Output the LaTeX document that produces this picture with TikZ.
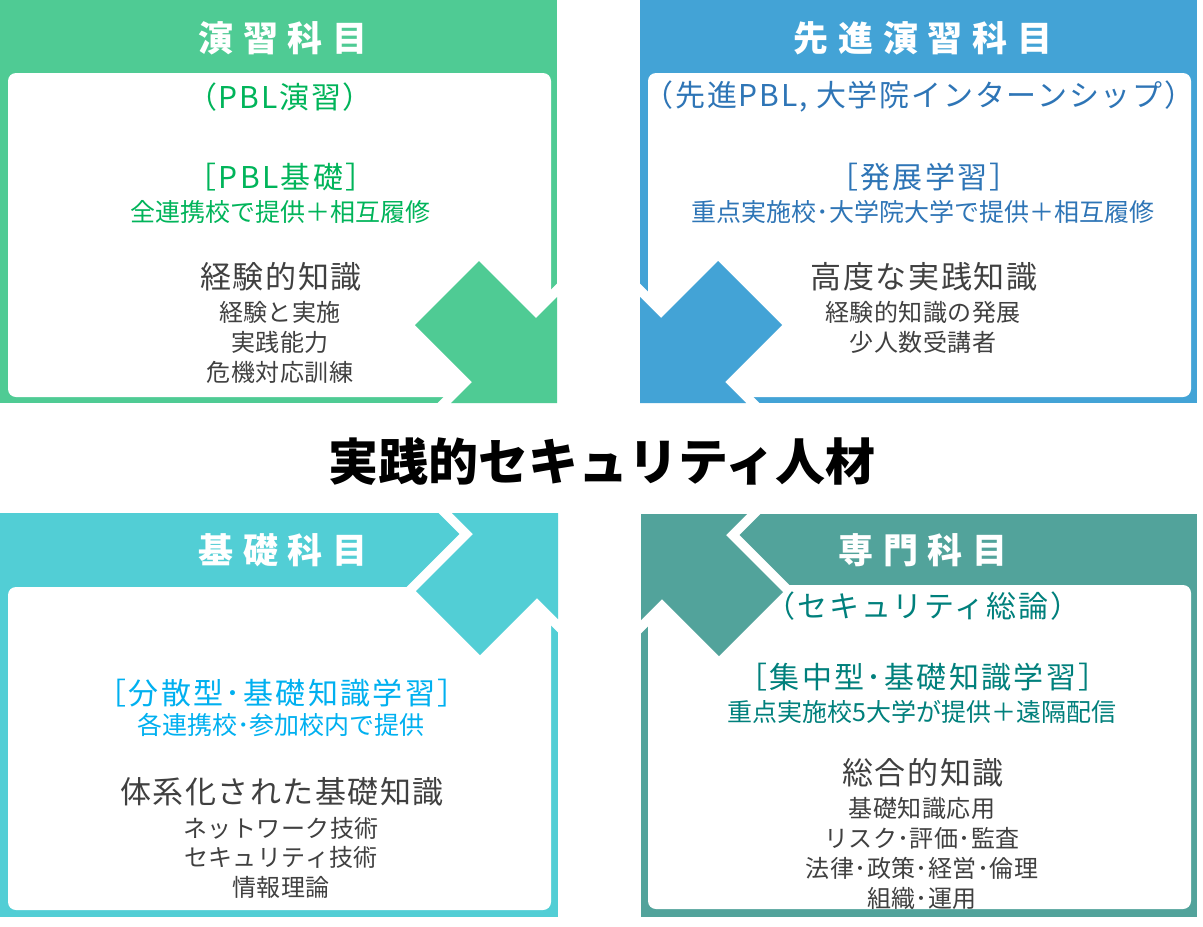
\documentclass[tikz,border=0pt]{standalone}
\usepackage{fontspec}
\setmainfont{Noto Sans CJK JP}
\definecolor{pgreen}{RGB}{79,203,148}
\definecolor{pblue}{RGB}{67,163,214}
\definecolor{pcyan}{RGB}{82,206,213}
\definecolor{pteal}{RGB}{82,163,155}
\definecolor{tgreen}{RGB}{0,180,90}
\definecolor{tblue}{RGB}{46,117,182}
\definecolor{tcyan}{RGB}{0,176,240}
\definecolor{tteal}{RGB}{0,128,124}
\definecolor{tdark}{RGB}{64,64,64}
\newcommand\cornerarrow[2]{%
  \begin{scope}[#1]
    \draw[white,line width=19,line join=miter] (0,0) -- (-106,0) -- (-85,-21) -- (-142,-78) -- (-78,-142) -- (-21,-85) -- (0,-106) -- cycle;
    \fill[#2] (0,0) -- (-106,0) -- (-85,-21) -- (-142,-78) -- (-78,-142) -- (-21,-85) -- (0,-106) -- cycle;
  \end{scope}}
\tikzset{
  panelttl/.style={inner sep=0,text=white,font=\fontsize{35}{40}\selectfont\bfseries\addfontfeatures{LetterSpace=28}},
  paren/.style={inner sep=0,font=\fontsize{30}{36}\selectfont\addfontfeatures{LetterSpace=6}},
  brack/.style={inner sep=0,font=\fontsize{30}{36}\selectfont\addfontfeatures{LetterSpace=8}},
  subl/.style={inner sep=0,font=\fontsize{25}{30}\selectfont},
  dhead/.style={inner sep=0,text=tdark,font=\fontsize{31}{36}\selectfont\addfontfeatures{LetterSpace=5}},
  dline/.style={inner sep=0,text=tdark,font=\fontsize{24}{28}\selectfont\addfontfeatures{LetterSpace=2}},
  maintitle/.style={inner sep=0,text=black,font=\fontsize{50}{56}\selectfont\bfseries},
  innerbox/.style={fill=white,rounded corners=8}
}
\begin{document}
\begin{tikzpicture}[x=1pt,y=-1pt]
\useasboundingbox (0,0) rectangle (1203,927);
% panels
\fill[pgreen] (0,0) rectangle (557,403);
\fill[innerbox] (8,73) rectangle (551,397);
\fill[pblue] (640,0) rectangle (1197,403);
\fill[innerbox] (648,73) rectangle (1191,397);
\fill[pcyan] (0,513) rectangle (558,917);
\fill[innerbox] (8,587) rectangle (551,910);
\fill[pteal] (641,514) rectangle (1197,917);
\fill[innerbox] (648,585) rectangle (1191,909);
% arrows
\cornerarrow{shift={(557,403)}}{pgreen}
\cornerarrow{shift={(640,403)},xscale=-1}{pblue}
\cornerarrow{shift={(558,513)},yscale=-1}{pcyan}
\cornerarrow{shift={(641,514)},xscale=-1,yscale=-1}{pteal}
% green
\node[panelttl] (g0) at (283,38) {演習科目};
\node[paren,text=tgreen] (g1) at (280,97) {（PBL演習）};
\node[brack,text=tgreen] (g2) at (281,177) {［PBL基礎］};
\node[subl,text=tgreen] (g3) at (280,212) {全連携校で提供＋相互履修};
\node[dhead] (g4) at (281,277) {経験的知識};
\node[dline] (g5) at (280,312) {経験と実施};
\node[dline] (g6) at (280,342) {実践能力};
\node[dline] (g7) at (280,372) {危機対応訓練};
% blue
\node[panelttl] (b0) at (923,38) {先進演習科目};
\node[paren,text=tblue] (b1) at (919,97) {（先進PBL, 大学院インターンシップ）};
\node[brack,text=tblue] (b2) at (924,177) {［発展学習］};
\node[subl,text=tblue] (b3) at (923,212) {重点実施校･大学院大学で提供＋相互履修};
\node[dhead] (b4) at (924,277) {高度な実践知識};
\node[dline] (b5) at (923,312) {経験的知識の発展};
\node[dline] (b6) at (923,342) {少人数受講者};
% center
\node[maintitle] (m) at (602,461) {実践的セキュリティ人材};
% cyan
\node[panelttl] (c0) at (283,550) {基礎科目};
\node[brack,text=tcyan] (c2) at (282,693) {［分散型･基礎知識学習］};
\node[subl,text=tcyan] (c3) at (281,725) {各連携校･参加校内で提供};
\node[dhead] (c4) at (282,792) {体系化された基礎知識};
\node[dline] (c5) at (281,828) {ネットワーク技術};
\node[dline] (c6) at (281,857) {セキュリティ技術};
\node[dline] (c7) at (281,887) {情報理論};
% teal
\node[panelttl] (t0) at (923,550) {専門科目};
\node[paren,text=tteal] (t1) at (923,606) {（セキュリティ総論）};
\node[brack,text=tteal] (t2) at (923,677) {［集中型･基礎知識学習］};
\node[subl,text=tteal] (t3) at (922,712) {重点実施校5大学が提供＋遠隔配信};
\node[dhead] (t4) at (923,773) {総合的知識};
\node[dline] (t5) at (922,808) {基礎知識応用};
\node[dline] (t6) at (922,838) {リスク･評価･監査};
\node[dline] (t7) at (922,868) {法律･政策･経営･倫理};
\node[dline] (t8) at (922,898) {組織･運用};
\end{tikzpicture}
\end{document}
